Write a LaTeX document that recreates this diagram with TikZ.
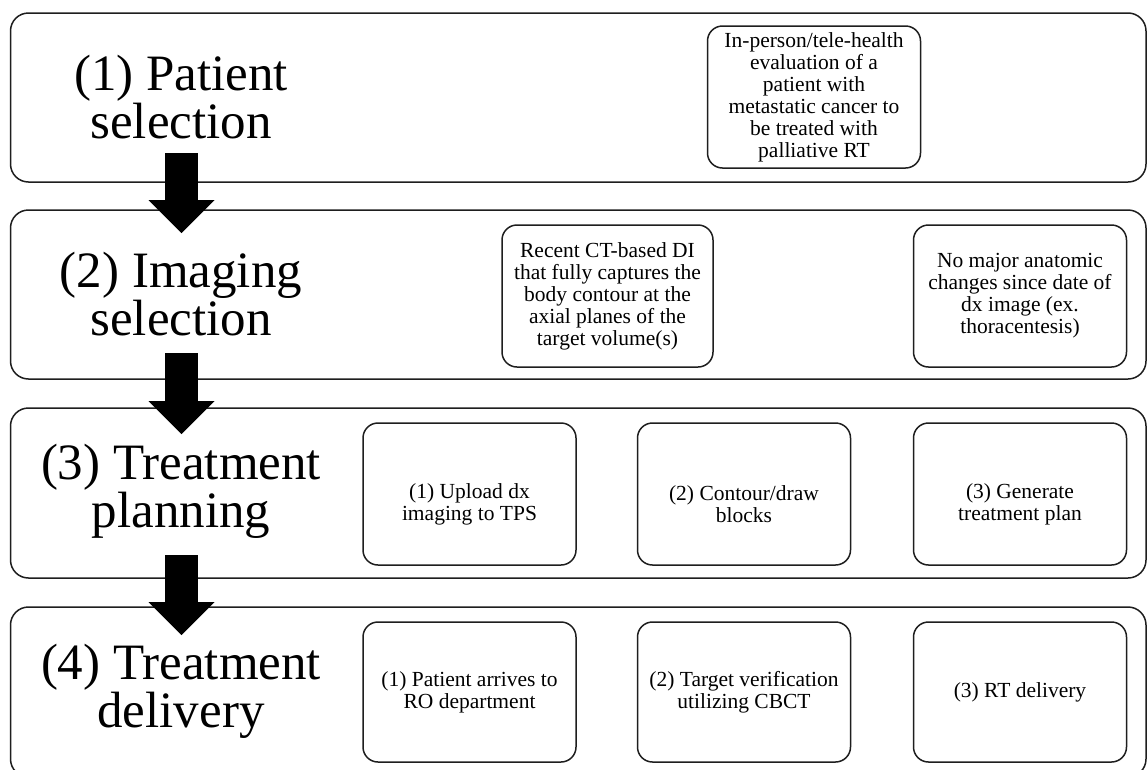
\documentclass[tikz,border=0pt]{standalone}
\usepackage{fontspec}
\setmainfont{Liberation Serif}
\usetikzlibrary{arrows.meta}
\definecolor{edge}{HTML}{1E1E1E}
\tikzset{
  rowbox/.style={draw=edge, line width=1.5pt, rounded corners=18pt, fill=white,
    minimum width=1135.5pt, inner sep=0pt},
  stagetitle/.style={align=center, inner sep=0pt,
    font=\fontsize{51}{48}\selectfont},
  stepbox/.style={draw=edge, line width=1.5pt, rounded corners=15pt, fill=white,
    minimum width=213pt, minimum height=142pt, inner sep=2pt, align=center,
    font=\fontsize{21.5}{22}\selectfont},
  steptext/.style={inner sep=0pt, align=center,
    font=\fontsize{21.5}{22}\selectfont},
  bigarrow/.style={draw=black, line width=33pt,
    -{Triangle[width=66pt,length=33pt,line width=0pt]}}
}
\begin{document}
\begin{tikzpicture}[x=1pt,y=-1pt]
\useasboundingbox (0,0) rectangle (1147,769);
\fill[white] (0,0) rectangle (1147,769);
% stage rows
\node[rowbox, minimum height=169pt] (r1) at (578.25,97.5) {};
\node[rowbox, minimum height=169pt] (r2) at (578.25,294.5) {};
\node[rowbox, minimum height=170pt] (r3) at (578.25,493) {};
\node[rowbox, minimum height=170pt] (r4) at (578.25,692) {};
% titles
\node[stagetitle] (t1) at (181,97) {(1) Patient\\selection};
\node[stagetitle] (t2) at (181,294) {(2) Imaging\\selection};
\node[stagetitle] (t3) at (181,491) {(3) Treatment\\planning};
\node[stagetitle] (t4) at (181,691) {(4) Treatment\\delivery};
% row 1
\node[stepbox] (b11) at (814,97) {In-person/tele-health\\evaluation of a\\patient with\\metastatic cancer to\\be treated with\\palliative RT};
% row 2
\node[stepbox, minimum width=211pt] (b21) at (607.5,296) {Recent CT-based DI\\that fully captures the\\body contour at the\\axial planes of the\\target volume(s)};
\node[stepbox] (b22) at (1020,296) {No major anatomic\\changes since date of\\dx image (ex.\\thoracentesis)};
% row 3
\node[stepbox] (b31) at (469.5,494) {};
\node[stepbox] (b32) at (744,494) {};
\node[stepbox] (b33) at (1020,494) {};
\node[steptext] (b31t) at ([yshift=-10pt]b31.center) {(1) Upload dx\\imaging to TPS};
\node[steptext] (b32t) at ([yshift=-10pt]b32.center) {(2) Contour/draw\\blocks};
\node[steptext] (b33t) at ([yshift=-10pt]b33.center) {(3) Generate\\treatment plan};
% row 4
\node[stepbox, minimum height=140pt] (b41) at (469.5,692) {(1) Patient arrives to\\RO department};
\node[stepbox, minimum height=140pt] (b42) at (744,692) {(2) Target verification\\utilizing CBCT};
\node[stepbox, minimum height=140pt] (b43) at (1020,692) {(3) RT delivery};
% arrows
\coordinate (a1s) at (181.5,153);
\coordinate (a1e) at (181.5,233);
\coordinate (a2s) at (181.5,353);
\coordinate (a2e) at (181.5,434);
\coordinate (a3s) at (181.5,555);
\coordinate (a3e) at (181.5,635);
\draw[bigarrow] (a1s) -- (a1e);
\draw[bigarrow] (a2s) -- (a2e);
\draw[bigarrow] (a3s) -- (a3e);
\end{tikzpicture}
\end{document}
